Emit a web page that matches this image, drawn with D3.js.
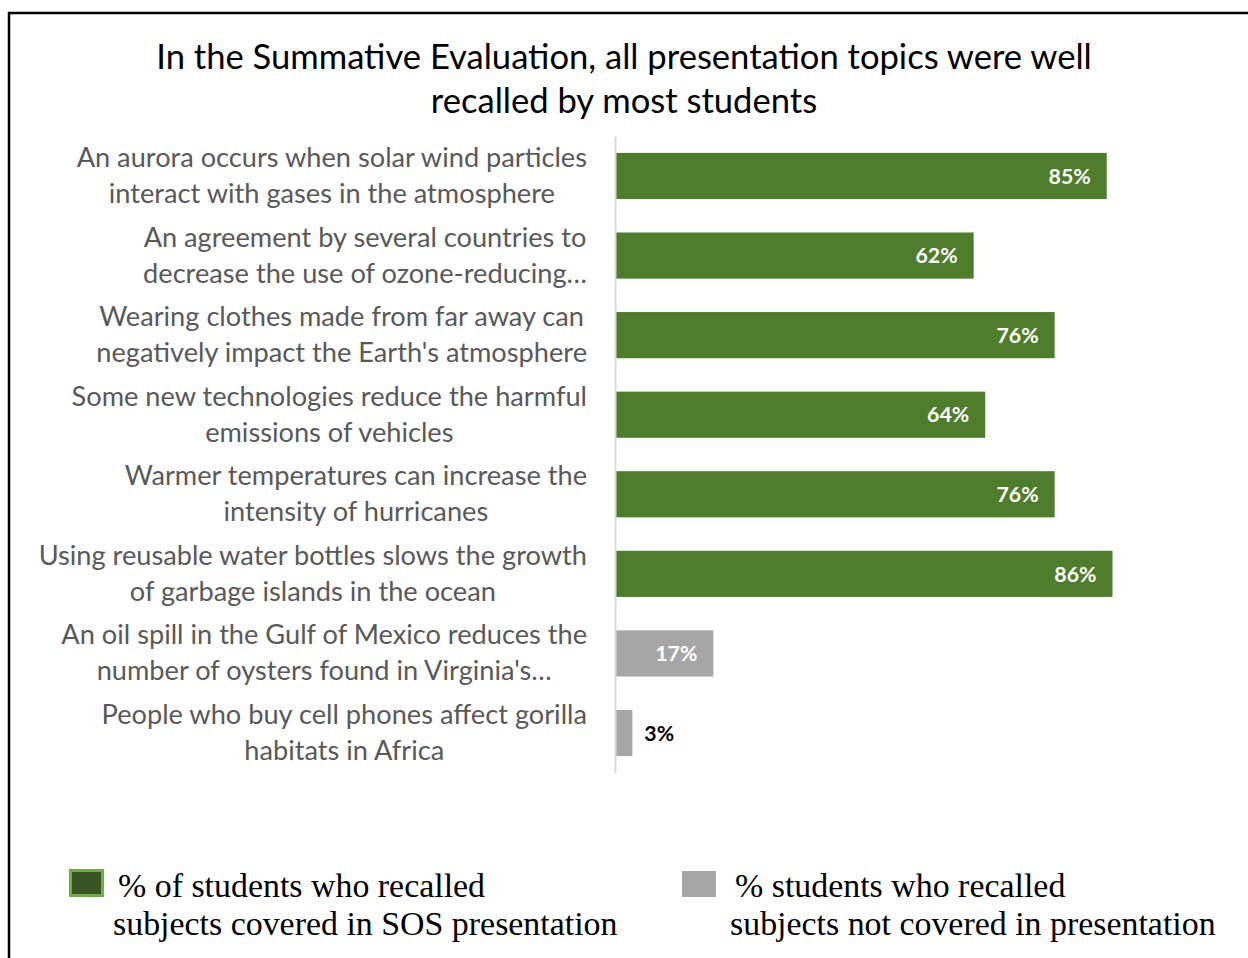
<!DOCTYPE html>
<html>
<head>
<meta charset="utf-8">
<script src="https://cdn.jsdelivr.net/npm/d3@7"></script>
<style>
  html, body { margin: 0; padding: 0; background: #fff; }
  svg { display: block; }
</style>
</head>
<body>
<svg id="chart" width="1248" height="958"></svg>
<script>
// Topics shown in the summative evaluation (line breaks mark label wrapping)
const categories = [
  "An aurora occurs when solar wind particles\ninteract with gases in the atmosphere",
  "An agreement by several countries to\ndecrease the use of ozone-reducing…",
  "Wearing clothes made from far away can\nnegatively impact the Earth's atmosphere",
  "Some new technologies reduce the harmful\nemissions of vehicles",
  "Warmer temperatures can increase the\nintensity of hurricanes",
  "Using reusable water bottles slows the growth\nof garbage islands in the ocean",
  "An oil spill in the Gulf of Mexico reduces the\nnumber of oysters found in Virginia's…",
  "People who buy cell phones affect gorilla\nhabitats in Africa"
];
// Percent of students who recalled each topic
const values = [85, 62, 76, 64, 76, 86, 17, 3];
// Whether the topic was covered in the SOS presentation
const covered = [true, true, true, true, true, true, false, false];
const titleLines = [
  "In the Summative Evaluation, all presentation topics were well",
  "recalled by most students"
];
const legendLabels = [
  ["% of students who recalled", "subjects covered in SOS presentation"],
  ["% students who recalled", "subjects not covered in presentation"]
];

const COLORS = { covered: "#4e7d2c", notCovered: "#a6a6a6" };
const sans = "Lato, 'Open Sans', sans-serif";
const serif = "'Liberation Serif', 'DejaVu Serif', serif";

const svg = d3.select("#chart");

// frame around the chart
svg.append("path")
  .attr("d", "M9,960V13H1250")
  .attr("fill", "none")
  .attr("stroke", "#000")
  .attr("stroke-width", 2.5);

// title
svg.append("g").selectAll("text")
  .data(titleLines)
  .join("text")
  .attr("x", 624)
  .attr("y", (d, i) => 69 + i * 44)
  .attr("text-anchor", "middle")
  .attr("font-family", sans)
  .attr("font-size", 34.6)
  .attr("fill", "#000")
  .text(d => d);

// scales
const x = d3.scaleLinear().domain([0, 100]).range([615, 1193.5]);
const y = d3.scaleBand()
  .domain(categories)
  .range([136.2, 772.8])
  .paddingInner(0.42)
  .paddingOuter(0.21);

// bars
svg.append("g").selectAll("rect")
  .data(values)
  .join("rect")
  .attr("x", x(0))
  .attr("y", (d, i) => y(categories[i]))
  .attr("width", d => x(d) - x(0))
  .attr("height", y.bandwidth())
  .attr("fill", (d, i) => covered[i] ? COLORS.covered : COLORS.notCovered);

// category axis
const axis = svg.append("g")
  .attr("transform", `translate(${x(0)},0)`)
  .call(d3.axisLeft(y).tickSize(0).tickPadding(28));
axis.select(".domain").attr("stroke", "#d9d9d9").attr("stroke-width", 2);

const labelSize = 27.2;
axis.selectAll(".tick text").each(function (d) {
  const t = d3.select(this);
  const lines = d.split("\n");
  t.text(null)
    .attr("font-family", sans)
    .attr("font-size", labelSize)
    .attr("fill", "#595959")
    .attr("dy", null)
    .attr("text-anchor", "middle");
  const spans = lines.map((line, i) =>
    t.append("tspan")
      .attr("y", -9 + i * 36)
      .text(line));
  const maxW = d3.max(spans, s => s.node().getComputedTextLength());
  const cx = -28 - maxW / 2;
  spans.forEach(s => s.attr("x", cx));
});

// value labels
svg.append("g").selectAll("text")
  .data(values)
  .join("text")
  .each(function (d, i) {
    const inside = x(d) - x(0) > 60;
    d3.select(this)
      .attr("x", inside ? x(d) - 16 : x(d) + 12)
      .attr("text-anchor", inside ? "end" : "start")
      .attr("fill", inside ? "#fff" : "#000");
  })
  .attr("y", (d, i) => y(categories[i]) + y.bandwidth() / 2)
  .attr("dy", "0.36em")
  .attr("font-family", sans)
  .attr("font-size", 21.3)
  .attr("font-weight", 700)
  .text(d => d + "%");

// legend
const legend = svg.append("g");
const legendItems = [
  { x: 69, fill: "#375623", stroke: "#70ad47", labels: legendLabels[0], tx: 118 },
  { x: 682, fill: COLORS.notCovered, stroke: "none", labels: legendLabels[1], tx: 735 }
];
legendItems.forEach(item => {
  legend.append("rect")
    .attr("x", item.stroke === "none" ? item.x : item.x + 1.5)
    .attr("y", item.stroke === "none" ? 871 : 870.5)
    .attr("width", item.stroke === "none" ? 34 : 32)
    .attr("height", item.stroke === "none" ? 26 : 25)
    .attr("fill", item.fill)
    .attr("stroke", item.stroke)
    .attr("stroke-width", 3);
  legend.selectAll(null)
    .data(item.labels)
    .join("text")
    .attr("x", (d, i) => item.tx - i * 5)
    .attr("y", (d, i) => 897 + i * 38)
    .attr("font-family", serif)
    .attr("font-size", 33.9)
    .attr("fill", "#000")
    .text(d => d);
});
</script>
</body>
</html>
